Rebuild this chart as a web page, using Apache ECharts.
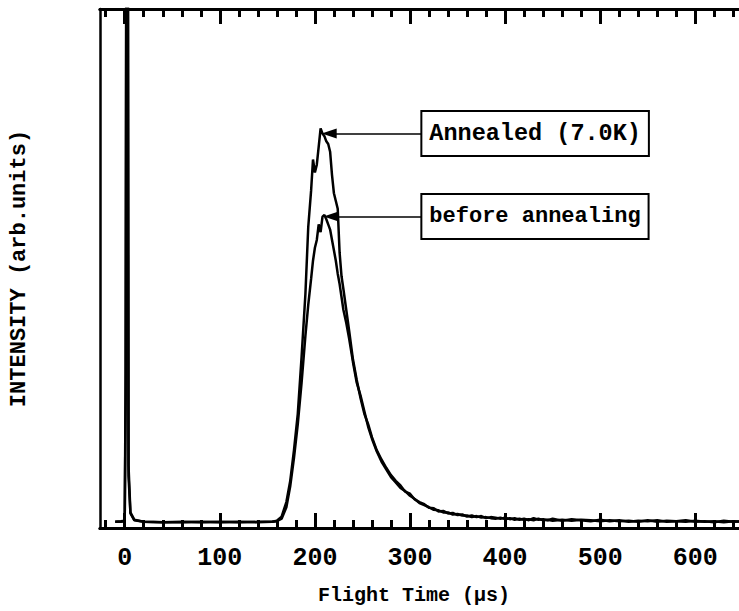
<!DOCTYPE html>
<html>
<head>
<meta charset="utf-8">
<title>Flight Time</title>
<script src="https://cdn.jsdelivr.net/npm/echarts@6/dist/echarts.min.js"></script>
<style>
  html, body { margin: 0; padding: 0; background: #fff; }
  #mychart { width: 739px; height: 611px; }
</style>
</head>
<body>
<div id="mychart"></div>
<script>
// 飞行时间 (µs)
var flightTime = [
  -10, -4, 0, 1, 2, 3, 4, 6, 10, 20, 40, 60, 80, 100, 120, 140, 155, 160,
  165, 170, 174, 178, 182, 186, 190, 193, 196, 198, 200, 202, 204, 206, 208, 210,
  212, 214, 216, 218, 220, 222, 224, 226, 228, 230, 233, 236, 240, 244, 248, 252,
  256, 260, 265, 270, 275,
  280, 285, 290, 295, 300, 305, 310, 315, 320, 325, 330, 335, 340, 345, 350, 355,
  360, 365, 370, 375, 380, 385, 390, 395, 400, 405, 410, 415, 420, 425, 430, 435,
  440, 445, 450,
  460, 470, 480, 490, 500, 510, 520, 530, 540, 550, 560, 570, 580, 590, 600, 610,
  620, 630, 640, 650, 660, 670, 680, 690, 700
];
// Annealed (7.0K)
var annealed = [
  1.2, 1.3, 1.4, 30, 160, 160, 12, 3, 1.6, 1.2, 1.1, 1.2, 1.1, 1.2, 1.1, 1.2, 1.2, 1.4,
  2.2, 5, 9, 15, 22, 33, 45, 58, 65, 71, 68.5, 70, 73.5, 77, 76, 75.5,
  74.5, 74, 72.5, 68, 64.5, 63, 61.5, 53, 48.5, 46, 42, 38, 32.5, 28.5, 25, 22,
  20, 17.5, 15, 13.2, 11.6,
  10.2, 9.1, 8.2, 7.0, 6.6, 5.5, 5.0, 4.6, 3.9, 3.8, 3.2, 3.3, 2.8, 2.9, 2.5, 2.6,
  2.2, 2.4, 2.1, 2.3, 1.9, 2.1, 2.0, 1.8, 2.0, 1.7, 1.9, 1.6, 1.8, 1.5, 1.9, 1.6,
  1.7, 1.5, 1.8,
  1.4, 1.7, 1.5, 1.3, 1.6, 1.3, 1.5, 1.2, 1.4, 1.3, 1.5, 1.2, 1.3, 1.5, 1.2, 1.3,
  1.1, 1.4, 1.2, 1.3, 1.1, 1.3, 1.2, 1.1, 1.2
];
// before annealing
var beforeAnnealing = [
  1.2, 1.2, 1.3, 25, 160, 160, 10, 2.8, 1.5, 1.2, 1.1, 1.1, 1.2, 1.1, 1.2, 1.1, 1.2, 1.3,
  1.8, 4, 8, 13.5, 20, 28, 37, 43, 48, 51.5, 54, 55.5, 58.5, 57, 60, 60.3,
  59.5, 58.5, 57.5, 55.5, 53.5, 51.5, 49, 47, 44.5, 42, 39.5, 36.5, 32, 28, 25.5, 22.5,
  19.5, 17.2, 14.8, 12.8, 11.3,
  9.8, 8.8, 7.7, 7.1, 6.2, 5.6, 4.8, 4.4, 4.0, 3.5, 3.4, 3.0, 3.0, 2.6, 2.7, 2.4,
  2.4, 2.1, 2.3, 2.0, 2.1, 1.9, 1.8, 2.0, 1.7, 1.9, 1.6, 1.8, 1.6, 1.7, 1.5, 1.8,
  1.5, 1.6, 1.4,
  1.6, 1.4, 1.6, 1.5, 1.3, 1.5, 1.3, 1.4, 1.2, 1.5, 1.2, 1.4, 1.3, 1.2, 1.4, 1.2,
  1.3, 1.1, 1.3, 1.2, 1.3, 1.1, 1.2, 1.3, 1.1
];
// 刻度
var tickLabels = [0, 100, 200, 300, 400, 500, 600];
var majorTicks = [0, 100, 200, 300, 400, 500, 600];
var minorTicks = [-20, 20, 40, 60, 80, 120, 140, 160, 180, 220, 240, 260, 280,
  320, 340, 360, 380, 420, 440, 460, 480, 520, 540, 560, 580, 620, 640];
// 标注 [标签, 箭头尖端 t, 数值, 标签框起点 t]
var notes = [
  ['Annealed (7.0K)', 215, 76, 313],
  ['before annealing', 217, 60, 313]
];

var FONT = 'Liberation Mono';
var Chart = null;

function toPairs(vals) {
  var out = [];
  for (var i = 0; i < flightTime.length; i++) {
    out.push([flightTime[i], vals[i]]);
  }
  return out;
}

function makeX(pos, ticks, len, withLabels) {
  return {
    type: 'value',
    position: pos,
    min: -26,
    max: 646,
    z: 10,
    axisLine: { show: true, onZero: false, lineStyle: { color: '#000', width: 3 } },
    axisTick: {
      show: true, inside: true, length: len, customValues: ticks,
      lineStyle: { color: '#000', width: 3 }
    },
    axisLabel: withLabels ? {
      show: true,
      showMinLabel: false,
      showMaxLabel: false,
      margin: 18,
      formatter: function (v) {
        return tickLabels.indexOf(v) >= 0 ? String(v) : '';
      },
      color: '#000', fontFamily: FONT, fontWeight: 'bold', fontSize: 25
    } : { show: false },
    splitLine: { show: false }
  };
}

function getOption() {
  var noteLines = [];
  var notePoints = [];
  for (var i = 0; i < notes.length; i++) {
    noteLines.push([
      { coord: [notes[i][3], notes[i][2]], symbol: 'none' },
      { coord: [notes[i][1], notes[i][2]], symbol: 'triangle', symbolSize: [10, 15] }
    ]);
    notePoints.push({
      coord: [notes[i][3], notes[i][2]],
      value: notes[i][0],
      label: { fontSize: i === 0 ? 23.5 : 22 }
    });
  }

  var option = {
    animation: false,
    grid: { left: 100, top: 9, bottom: 83, right: 0, outerBoundsMode: 'none', containLabel: false },
    xAxis: [
      makeX('bottom', majorTicks, 15, true),
      makeX('bottom', minorTicks, 8, false),
      makeX('top', majorTicks, 15, false),
      makeX('top', minorTicks, 8, false)
    ],
    yAxis: {
      type: 'value',
      min: 0,
      max: 100,
      name: 'INTENSITY (arb.units)',
      nameLocation: 'middle',
      nameRotate: 90,
      nameGap: 70,
      nameTextStyle: { color: '#000', fontFamily: FONT, fontWeight: 'bold', fontSize: 22 },
      axisLine: { show: true, onZero: false, lineStyle: { color: '#000', width: 2.5 } },
      axisTick: { show: false },
      axisLabel: { show: false },
      splitLine: { show: false }
    },
    graphic: [{
      type: 'text',
      left: 318,
      top: 585,
      style: {
        text: 'Flight Time (µs)',
        fill: '#000',
        font: 'bold 20px "Liberation Mono"'
      }
    }],
    series: [
      {
        name: 'before annealing',
        type: 'line',
        data: toPairs(beforeAnnealing),
        showSymbol: false,
        clip: true,
        lineStyle: { color: '#000', width: 2.5 }
      },
      {
        name: 'Annealed (7.0K)',
        type: 'line',
        data: toPairs(annealed),
        showSymbol: false,
        clip: true,
        lineStyle: { color: '#000', width: 2.5 },
        markLine: {
          silent: true,
          symbol: ['none', 'triangle'],
          lineStyle: { color: '#000', width: 1.5, type: 'solid' },
          label: { show: false },
          data: noteLines
        },
        markPoint: {
          silent: true,
          symbol: 'rect',
          symbolSize: 0,
          label: {
            show: true,
            position: 'right',
            distance: 0,
            formatter: '{c}',
            color: '#000',
            fontFamily: FONT,
            fontWeight: 'bold',
            lineHeight: 28,
            backgroundColor: '#fff',
            borderColor: '#000',
            borderWidth: 2,
            padding: [8, 7, 7, 7]
          },
          data: notePoints
        }
      }
    ]
  };
  return option;
}

Chart = echarts.init(document.getElementById('mychart'), null, { renderer: 'svg' });
Chart.setOption(getOption());
</script>
</body>
</html>
